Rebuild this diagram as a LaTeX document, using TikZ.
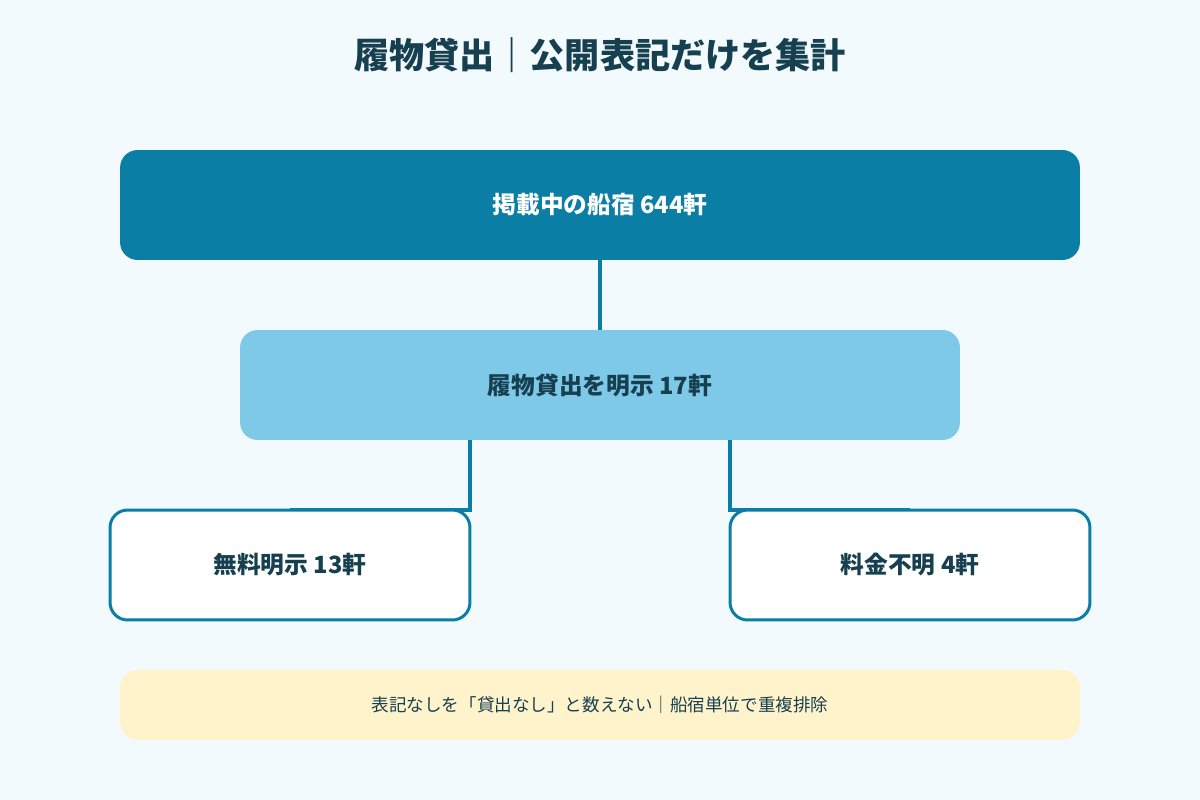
\documentclass[tikz,border=0pt]{standalone}
\usepackage{fontspec}
\setmainfont{Noto Sans CJK JP}
\usetikzlibrary{positioning}
\definecolor{bgc}{HTML}{F3FAFD}
\definecolor{ink}{HTML}{163F4F}
\definecolor{deep}{HTML}{0A7EA4}
\definecolor{sky}{HTML}{7EC8E8}
\definecolor{cream}{HTML}{FFF3CC}
\tikzset{
  box/.style={rounded corners=10pt, minimum height=2.2cm, inner sep=0pt},
  wire/.style={draw=deep, line width=2.8pt}
}
\begin{document}
\begin{tikzpicture}[x=0.02cm, y=-0.02cm]
\fill[bgc] (0,0) rectangle (1200,800);
\useasboundingbox (0,0) rectangle (1200,800);
% title
\node[text=ink, font=\fontsize{20}{24}\selectfont\bfseries] (title) at (600,55) {履物貸出｜公開表記だけを集計};
% boxes
\node[box, fill=deep, minimum width=19.2cm, text=white, font=\fontsize{13.5}{16}\selectfont\bfseries] (all) at (600,205) {掲載中の船宿 644軒};
\node[box, fill=sky, minimum width=14.4cm, text=ink, font=\fontsize{13.5}{16}\selectfont\bfseries] (shown) at (600,385) {履物貸出を明示 17軒};
\coordinate (lend) at (290,510);
\coordinate (rend) at (910,510);
\draw[wire] (all.south) -- (shown.north);
\draw[wire] ([xshift=-2.6cm]shown.south) |- (lend);
\draw[wire] ([xshift=2.6cm]shown.south) |- (rend);
\node[box, fill=white, draw=deep, line width=1.7pt, minimum width=7.2cm, text=ink, font=\fontsize{13.5}{16}\selectfont\bfseries] (free) at (290,565) {無料明示 13軒};
\node[box, fill=white, draw=deep, line width=1.7pt, minimum width=7.2cm, text=ink, font=\fontsize{13.5}{16}\selectfont\bfseries] (unknown) at (910,565) {料金不明 4軒};
% note
\node[box, fill=cream, minimum width=19.2cm, minimum height=1.4cm, text=ink, font=\fontsize{10}{12}\selectfont] (note) at (600,705) {表記なしを「貸出なし」と数えない｜船宿単位で重複排除};
\end{tikzpicture}
\end{document}
